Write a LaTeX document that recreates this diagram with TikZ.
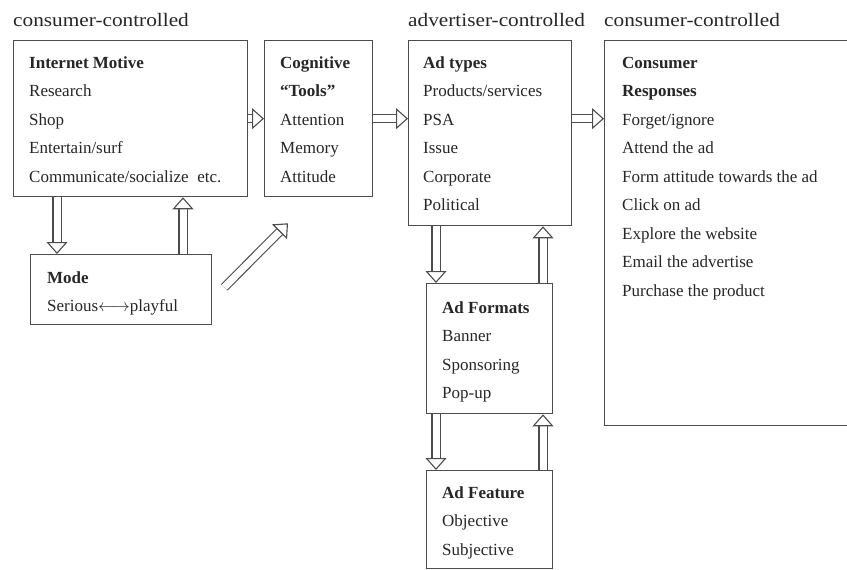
\documentclass[tikz,border=0pt]{standalone}
\usepackage{fontspec}
\setmainfont{Liberation Serif}
\usetikzlibrary{arrows.meta,calc}

\tikzset{
	box/.style={draw=black!70, line width=1.3pt, anchor=north west, inner sep=0pt},
	txt/.style={anchor=north west, align=left, inner sep=0pt, text=black!85, font=\fontsize{17}{28.5}\selectfont},
	ctrl/.style={anchor=base west, inner sep=0pt, text=black!85, font=\fontsize{19}{22}\selectfont},
	blk/.style={draw=black!70, line width=1.1pt, double, double distance=7pt, -{Triangle[open, length=12pt 0 0, width=21pt 0 0]}}
}

\begin{document}
\begin{tikzpicture}[x=1pt,y=-1pt]
	\clip (0,0) rectangle (847,570);
	
	% Draw the boxes
	\node[box, minimum width=234pt, minimum height=156pt] (motive) at (13,40) {};
	\node[box, minimum width=108pt, minimum height=156pt] (tools) at (264,40) {};
	\node[box, minimum width=163pt, minimum height=185pt] (adtypes) at (408,40) {};
	\node[box, minimum width=260pt, minimum height=385pt] (responses) at (604,40) {};
	\node[box, minimum width=181pt, minimum height=70pt] (mode) at (30,254) {};
	\node[box, minimum width=126pt, minimum height=130pt] (formats) at (426,283) {};
	\node[box, minimum width=126pt, minimum height=98pt] (feature) at (426,470) {};
	
	% Control labels above the columns
	\node[ctrl] (leftctrl) at ([shift={(0,-14)}]motive.north west) {\scalebox{1.12}[1]{consumer-controlled}};
	\node[ctrl] (advctrl) at ([shift={(0,-14)}]adtypes.north west) {\scalebox{1.12}[1]{advertiser-controlled}};
	\node[ctrl] (rightctrl) at ([shift={(0,-14)}]responses.north west) {\scalebox{1.12}[1]{consumer-controlled}};
	
	% Box texts
	\node[txt] (motivetxt) at ([shift={(16,8)}]motive.north west) {\strut\textbf{Internet Motive}\\Research\\Shop\\Entertain/surf\\Communicate/socialize\ \ etc.};
	\node[txt] (toolstxt) at ([shift={(16,8)}]tools.north west) {\strut\textbf{Cognitive}\\\textbf{``Tools''}\\Attention\\Memory\\Attitude};
	\node[txt] (adtypestxt) at ([shift={(15,8)}]adtypes.north west) {\strut\textbf{Ad types}\\Products/services\\PSA\\Issue\\Corporate\\Political};
	\node[txt] (responsestxt) at ([shift={(18,8)}]responses.north west) {\strut\textbf{Consumer}\\\textbf{Responses}\\Forget/ignore\\Attend the ad\\Form attitude towards\ the ad\\Click on ad\\Explore the website\\Email the advertise\\Purchase the product};
	\node[txt] (modetxt) at ([shift={(17,9)}]mode.north west) {\strut\textbf{Mode}\\Serious$\longleftrightarrow$playful};
	\node[txt] (formatstxt) at ([shift={(16,10)}]formats.north west) {\strut\textbf{Ad Formats}\\Banner\\Sponsoring\\Pop-up};
	\node[txt] (featuretxt) at ([shift={(16,8)}]feature.north west) {\strut\textbf{Ad Feature}\\Objective\\Subjective};
	
	% Hollow arrows between the boxes
	\draw[blk] (motive.east) -- (tools.west);
	\draw[blk] (tools.east) -- (tools.east -| adtypes.west);
	\draw[blk] (tools.east -| adtypes.east) -- (tools.east -| responses.west);
	\draw[blk] ([xshift=44pt]motive.south west) -- ([xshift=27pt]mode.north west);
	\draw[blk] ([xshift=153pt]mode.north west) -- ([xshift=170pt]motive.south west);
	\coordinate (diagtail) at ([shift={(12,-38)}]mode.south east);
	\coordinate (diaghead) at ([shift={(24,26)}]tools.south west);
	\draw[blk] (diagtail) -- (diaghead);
	\draw[blk] ([xshift=28pt]adtypes.south west) -- ([xshift=10pt]formats.north west);
	\draw[blk] ([xshift=117pt]formats.north west) -- ([xshift=135pt]adtypes.south west);
	\draw[blk] ([xshift=10pt]formats.south west) -- ([xshift=10pt]feature.north west);
	\draw[blk] ([xshift=117pt]feature.north west) -- ([xshift=117pt]formats.south west);
\end{tikzpicture}
\end{document}
